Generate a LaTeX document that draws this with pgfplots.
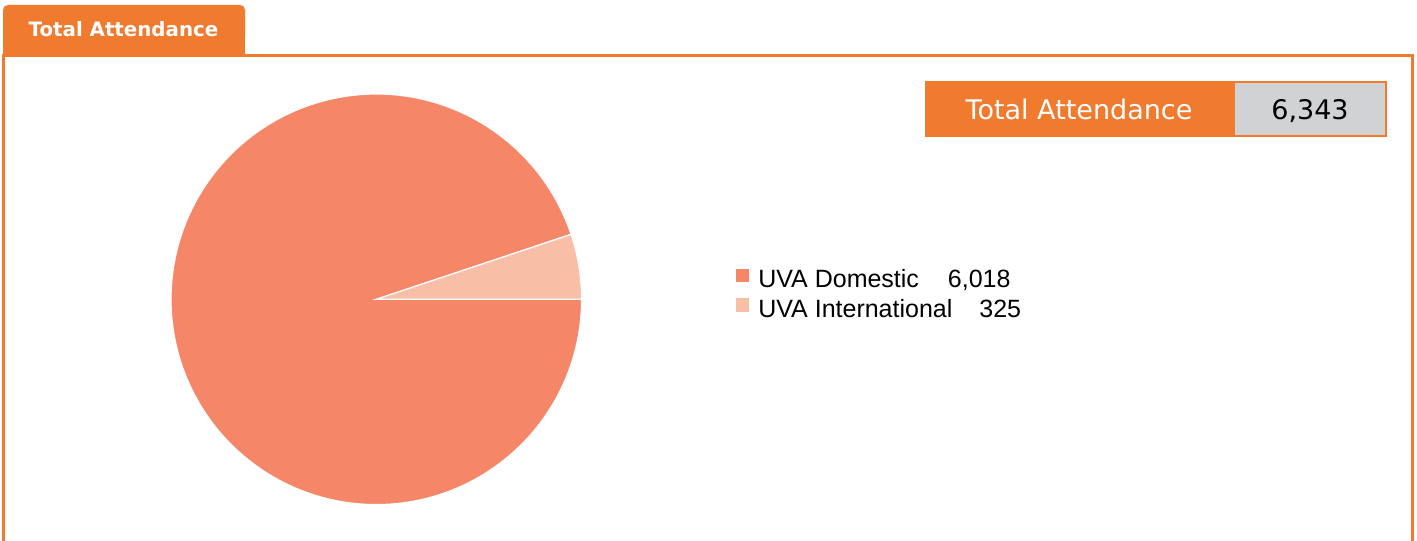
\documentclass[border=0pt]{standalone}
\usepackage{fontspec}
\setmainfont{DejaVu Sans}
\newfontfamily\legfont{Liberation Sans}
\usepackage{pgfplots}
\pgfplotsset{compat=1.18}
\definecolor{frameor}{RGB}{240,122,46}
\definecolor{dom}{RGB}{245,135,104}
\definecolor{intl}{RGB}{249,191,166}
\definecolor{boxgray}{RGB}{209,210,212}
\newcommand{\valDom}{6018}
\newcommand{\valInt}{325}
\begin{document}
\begin{tikzpicture}
\pgfmathsetmacro{\angI}{360*(\valInt/(\valDom+\valInt))}
\useasboundingbox (0,0) rectangle (1417pt,541pt);
\begin{scope}[x=1pt,y=-1pt,yshift=541pt]
 \fill[white] (0,0) rectangle (1417,541);
 \fill[frameor, rounded corners=5pt] (3,5) rectangle (245,40);
 \fill[frameor] (3,25) rectangle (245,56.5);
 \node[anchor=base, inner sep=0pt, text=white, font=\bfseries\fontsize{19.8}{22}\selectfont] at (123.5,36.7) {Total Attendance};
 \draw[frameor, line width=3pt] (3.5,545) -- (3.5,55.5) -- (1412.3,55.5) -- (1412.3,545);
 \fill[frameor] (925,81) rectangle (1387,137);
 \fill[boxgray] (1235,83) rectangle (1385,135);
 \node[anchor=base, inner sep=0pt, text=white, font=\fontsize{27}{30}\selectfont] at (1079,119.3) {Total Attendance};
 \node[anchor=base, inner sep=0pt, text=black, font=\fontsize{27}{30}\selectfont] at (1310,119.3) {6,343};
\end{scope}
\begin{axis}[
  at={(376.3pt,241.7pt)}, anchor=center,
  x=205.3pt, y=205.3pt,
  xmin=-1, xmax=1, ymin=-1, ymax=1,
  hide axis, clip=false,
  legend cell align=left,
  legend style={draw=none, fill=none, inner sep=0pt, outer sep=0pt,
    at={(axis description cs:1.3756,0.513)}, anchor=west,
    font=\legfont\fontsize{25}{28}\selectfont,
    nodes={inner sep=0pt},
    column sep=9pt, row sep=9pt},
  legend image code/.code={\fill[#1, draw=none] (0pt,-2.5pt) rectangle (13.5pt,11pt);},
]
\addplot[fill=dom, draw=white, line width=1.2pt, domain=\angI:360, samples=240, variable=\t]
  ({cos(\t)},{sin(\t)}) -- (axis cs:0,0) -- cycle;
\addlegendentry{UVA Domestic\hspace{29pt}6,018}
\addplot[fill=intl, draw=white, line width=1.2pt, domain=0:\angI, samples=30, variable=\t]
  ({cos(\t)},{sin(\t)}) -- (axis cs:0,0) -- cycle;
\addlegendentry{UVA International\hspace{27pt}325}
\end{axis}
\end{tikzpicture}
\end{document}
